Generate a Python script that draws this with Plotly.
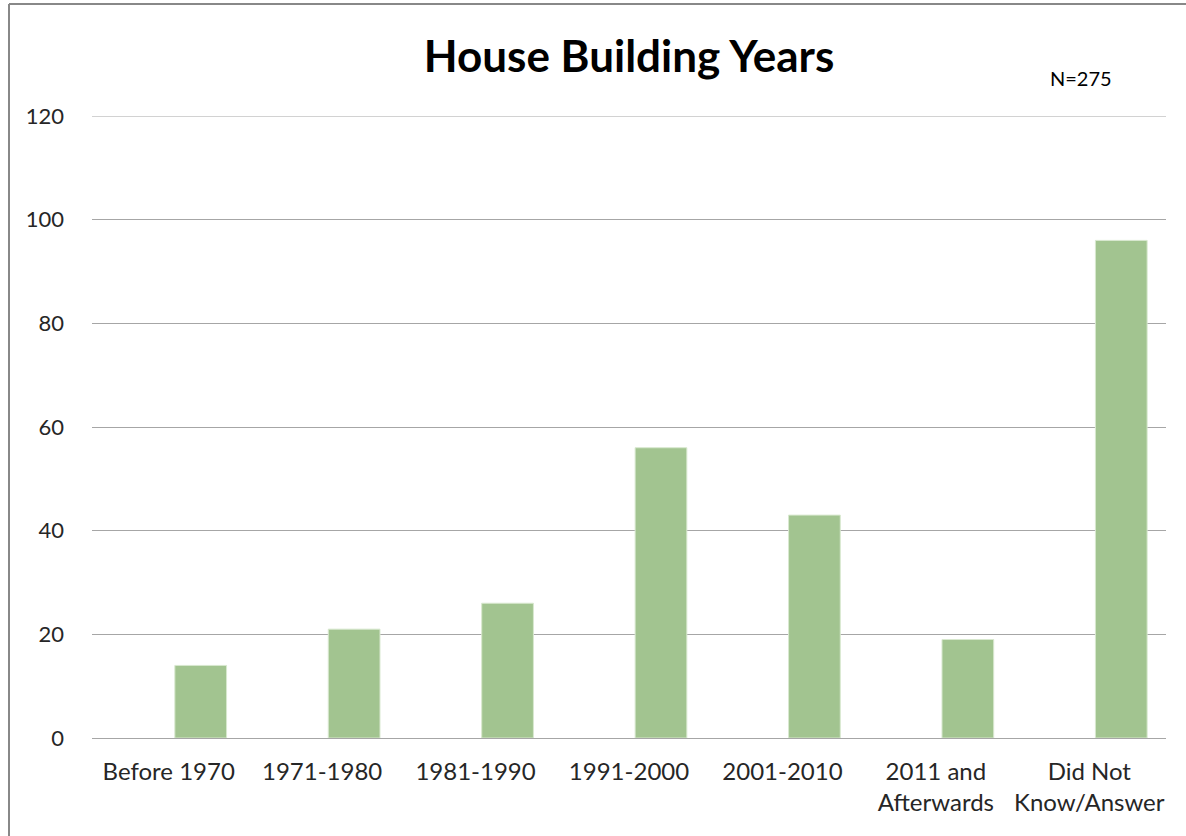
import plotly.graph_objects as go

categories = ["Before 1970", "1971-1980", "1981-1990", "1991-2000", "2001-2010",
              "2011 and<br>Afterwards", "Did Not<br>Know/Answer"]
counts = [14, 21, 26, 56, 43, 19, 96]
y_ticks = [0, 20, 40, 60, 80, 100, 120]

W, H = 1186, 836
L, R, T, B = 92, 20, 116, 98
pw, ph = W - L - R, H - T - B

def px(x):
    return (x - L) / pw

def py(y):
    return (H - B - y) / ph

fig = go.Figure()
fig.add_trace(go.Bar(
    x=categories, y=counts,
    marker=dict(color="#A2C490", line=dict(color="#D8E8CF", width=1)),
    width=0.337, offset=0.04,
    hoverinfo="x+y",
))

fig.update_layout(
    width=W, height=H,
    margin=dict(l=L, r=R, t=T, b=B),
    paper_bgcolor="white", plot_bgcolor="white",
    showlegend=False,
    font=dict(family="Lato, 'Noto Sans', sans-serif", color="#262626", size=22),
    title=dict(text="<b>House Building Years</b>", x=0.5, xref="paper",
               y=1 - 57 / H, yanchor="middle", xanchor="center",
               font=dict(size=44, color="#000000")),
    xaxis=dict(showgrid=False, showline=True, linecolor="#A6A6A6", linewidth=1,
               ticks="", tickfont=dict(size=24, color="#262626"),
               ticklabelstandoff=12, range=[-0.5, 6.5]),
    yaxis=dict(range=[0, 120], tickvals=y_ticks, showgrid=True,
               gridcolor="#A6A6A6", gridwidth=1, zeroline=False, showline=False,
               ticks="", tickfont=dict(size=22, color="#262626"), ticklabelstandoff=27),
    annotations=[dict(text="N=275", xref="paper", yref="paper",
                      x=px(1081), y=py(78), showarrow=False,
                      xanchor="center", yanchor="middle",
                      font=dict(size=20, color="#000000"))],
    shapes=[
        dict(type="line", xref="paper", yref="y", x0=0, x1=1,
             y0=y_ticks[-1], y1=y_ticks[-1], line=dict(color="#A6A6A6", width=1)),
        dict(type="line", xref="paper", yref="paper", x0=px(9), x1=px(9),
             y0=py(H), y1=py(4), line=dict(color="#888888", width=2)),
        dict(type="line", xref="paper", yref="paper", x0=px(9), x1=px(W),
             y0=py(4), y1=py(4), line=dict(color="#888888", width=2)),
    ],
)

fig.write_html("out.html", config={"displayModeBar": False},
               post_script="document.body.style.margin='0';document.body.style.overflow='hidden';")
